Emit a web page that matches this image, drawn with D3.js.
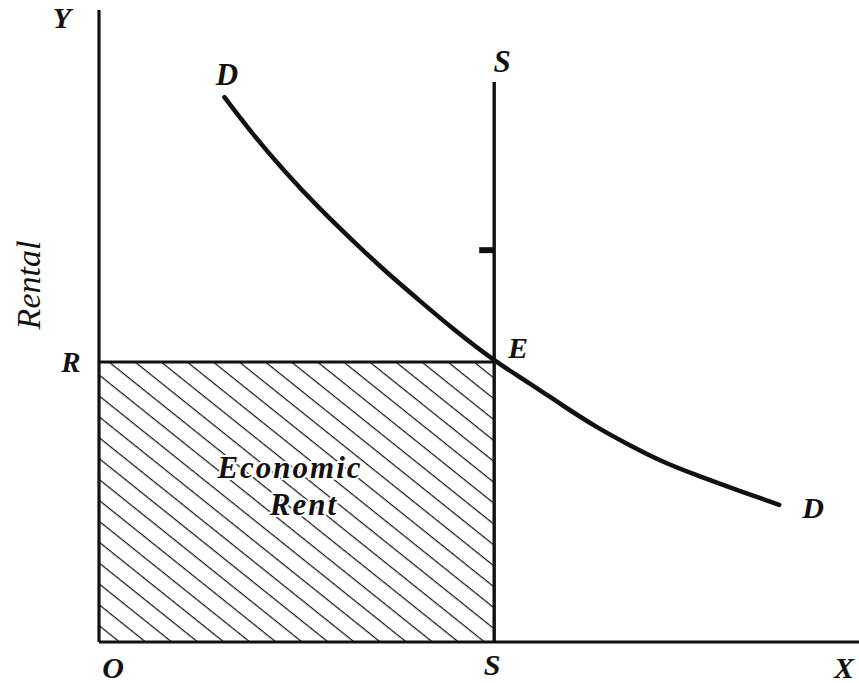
<!DOCTYPE html>
<html>
<head>
<meta charset="utf-8">
<script src="https://cdn.jsdelivr.net/npm/d3@7"></script>
<style>
  html, body { margin: 0; padding: 0; background: #fff; }
  svg { display: block; }
  .lbl { font-family: "Liberation Serif", "Times New Roman", Times, serif; font-style: italic; font-weight: bold; fill: #111; }
</style>
</head>
<body>
<svg id="chart" width="859" height="683"></svg>
<script>
// ---- data (abstract units: quantity 0..10, rental 0..10) ----
const demandQty    = [1.65, 2.01, 2.46, 2.89, 3.33, 3.78, 4.21, 4.64, 5.22, 5.66, 6.09, 6.54, 6.97, 7.41, 7.86, 8.29, 8.95];
const demandRental = [8.62, 8.05, 7.42, 6.87, 6.36, 5.85, 5.41, 4.97, 4.43, 4.10, 3.75, 3.40, 3.12, 2.85, 2.64, 2.45, 2.17];
const supplyQty = 5.2;          // vertical supply line S
const supplyTop = 8.86;         // top of supply line
const rentR = 4.43;             // equilibrium rental R
const markRental = 6.2;         // small mark on the S line
const axisMax = [10, 10];
const labels = ["Y", "X", "O", "R", "S", "S", "E", "D", "D", "Rental", "Economic", "Rent"];

const svg = d3.select("#chart");
const x = d3.scaleLinear().domain([0, axisMax[0]]).range([99, 859]);
const y = d3.scaleLinear().domain([0, axisMax[1]]).range([642, 10]);

// hatch pattern
const defs = svg.append("defs");
const pat = defs.append("pattern")
  .attr("id", "hatch")
  .attr("patternUnits", "userSpaceOnUse")
  .attr("width", 40).attr("height", 16.3)
  .attr("patternTransform", `translate(110,${y(rentR)}) rotate(38.7)`);
pat.append("line").attr("x1", 0).attr("x2", 40).attr("y1", 0).attr("y2", 0)
  .attr("stroke", "#111").attr("stroke-width", 2.6);

// hatched economic rent rectangle
svg.append("rect")
  .attr("x", x(0)).attr("y", y(rentR))
  .attr("width", x(supplyQty) - x(0)).attr("height", y(0) - y(rentR))
  .attr("fill", "url(#hatch)");

// R horizontal line
svg.append("line")
  .attr("x1", x(0)).attr("x2", x(supplyQty))
  .attr("y1", y(rentR)).attr("y2", y(rentR))
  .attr("stroke", "#111").attr("stroke-width", 3);

// axes
svg.append("line").attr("x1", x(0)).attr("x2", x(0)).attr("y1", y(axisMax[1])).attr("y2", y(0))
  .attr("stroke", "#111").attr("stroke-width", 3.2);
svg.append("line").attr("x1", x(0)).attr("x2", x(axisMax[0])).attr("y1", y(0)).attr("y2", y(0))
  .attr("stroke", "#111").attr("stroke-width", 3.2);

// supply line
svg.append("line").attr("x1", x(supplyQty)).attr("x2", x(supplyQty))
  .attr("y1", y(supplyTop)).attr("y2", y(0))
  .attr("stroke", "#111").attr("stroke-width", 3.4);
// small mark on supply
svg.append("line").attr("x1", x(supplyQty) - 15).attr("x2", x(supplyQty))
  .attr("y1", y(markRental)).attr("y2", y(markRental))
  .attr("stroke", "#111").attr("stroke-width", 6);

// demand curve
const pts = demandQty.map((q, i) => [q, demandRental[i]]);
svg.append("path")
  .datum(pts)
  .attr("fill", "none").attr("stroke", "#111").attr("stroke-width", 4.5)
  .attr("stroke-linecap", "round")
  .attr("d", d3.line().x(d => x(d[0])).y(d => y(d[1])).curve(d3.curveBasis));

// labels
function lbl(t, px, py, size, anchor) {
  return svg.append("text").attr("class", "lbl").attr("x", px).attr("y", py)
    .attr("font-size", size).attr("text-anchor", anchor || "middle").text(t);
}
lbl(labels[0], 62, 28, 30);
lbl(labels[1], 834, 678, 30, "start");
lbl(labels[2], 113, 678, 30);
lbl(labels[3], 71, 372, 29);
lbl(labels[4], x(supplyQty) - 2, 675, 30);
lbl(labels[5], x(supplyQty) + 8, 72, 31);
lbl(labels[6], 518, 358, 30);
lbl(labels[7], 227, 85, 31);
lbl(labels[8], 813, 518, 30);

svg.append("text").attr("class", "lbl")
  .attr("transform", "translate(40,285) rotate(-90)")
  .attr("text-anchor", "middle").attr("font-size", 34)
  .style("font-weight", "normal")
  .text(labels[9]);

const er = [[labels[10], 290, 478], [labels[11], 304, 515]];
er.forEach(([t, px, py]) => {
  svg.append("text").attr("class", "lbl").attr("x", px).attr("y", py)
    .attr("text-anchor", "middle").attr("font-size", 31).attr("letter-spacing", 2)
    .attr("stroke", "#fff").attr("stroke-width", 4).attr("paint-order", "stroke")
    .text(t);
});
</script>
</body>
</html>
